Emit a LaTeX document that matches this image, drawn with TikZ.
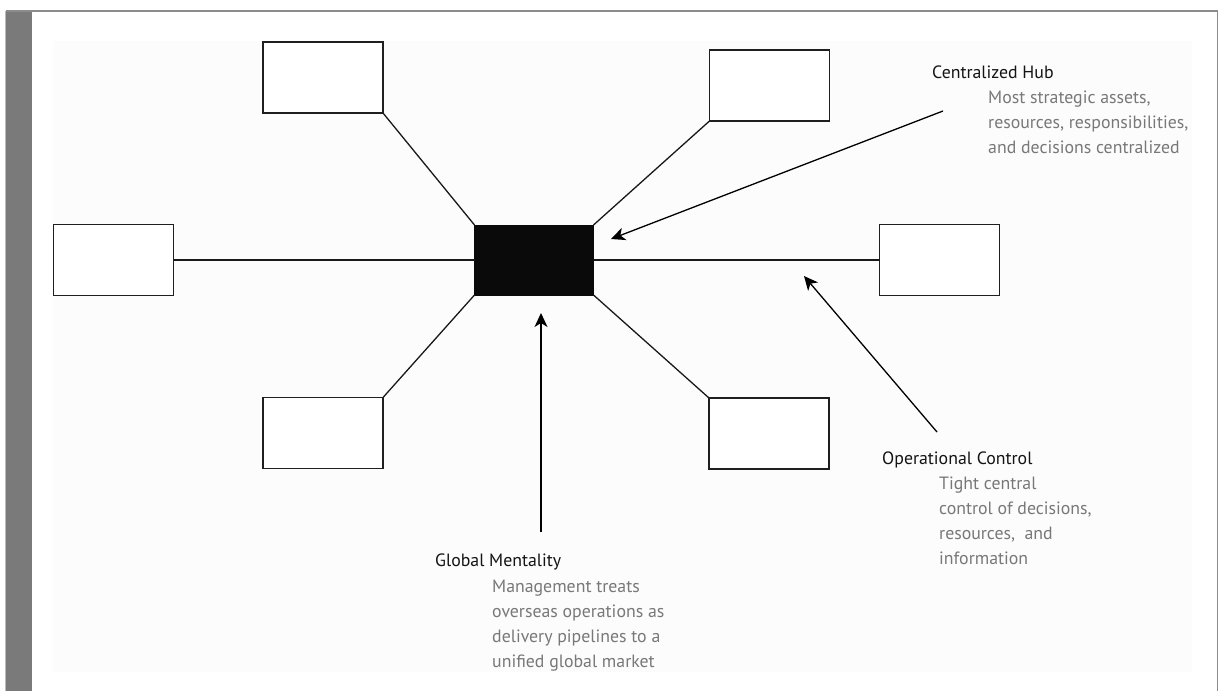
\documentclass[tikz,border=0pt]{standalone}
\usepackage{fontspec}
\setmainfont{PT Sans}
\usetikzlibrary{arrows.meta}
\definecolor{framegray}{RGB}{122,122,122}
\definecolor{edgegray}{RGB}{140,140,140}
\definecolor{panelfill}{RGB}{252,252,252}
\definecolor{bodygray}{RGB}{120,120,120}
\definecolor{hubfill}{RGB}{10,10,10}
% stacked lines whose baseline is that of the first line
\newcommand{\stacklines}[1]{\begin{tabular}[t]{@{}l@{}}#1\end{tabular}}
\tikzset{
  site/.style={draw=black!88, line width=1.4pt, fill=white, minimum width=120pt, minimum height=71pt, inner sep=0pt, outer sep=0pt},
  hubbox/.style={draw=hubfill, fill=hubfill, line width=1pt, minimum width=119pt, minimum height=70pt, inner sep=0pt, outer sep=0pt},
  spoke/.style={line width=1.3pt, black!90},
  pointer/.style={line width=1.3pt, black, -{Stealth[length=14pt, width=13pt, inset=4pt]}},
  heading/.style={anchor=base west, inner sep=0pt, text=black!92, font=\fontsize{17.8}{25}\selectfont},
  body/.style={anchor=base west, inner sep=0pt, text=bodygray, font=\fontsize{17.8}{25}\selectfont},
}
\begin{document}
\begin{tikzpicture}[x=1pt, y=-1pt]
  \useasboundingbox (0,0) rectangle (1219,691);
  % page frame and side bar
  \fill[white] (0,0) rectangle (1219,691);
  \fill[framegray] (6,11) rectangle (32,691);
  \draw[edgegray, line width=1.5pt] (5.5,11) -- (1217.5,11) -- (1217.5,691);
  \draw[edgegray!60, line width=0.8pt] (5.5,11) -- (5.5,691);
  % drawing panel
  \fill[panelfill] (53,41) rectangle (1192,672);

  % hub and its sites
  \node[hubbox] (hub) at (534,260) {};
  \node[site] (tl) at (323,77.5) {};
  \node[site] (tr) at (769.5,85.5) {};
  \node[site] (lf) at (113.5,260) {};
  \node[site] (rt) at (939.5,260) {};
  \node[site] (bl) at (323,433) {};
  \node[site] (br) at (769,433.5) {};

  \draw[spoke] (lf.east) -- (hub.west);
  \draw[spoke] (hub.east) -- (rt.west);
  \draw[spoke] (tl.south east) -- (hub.north west);
  \draw[spoke] (tr.south west) -- (hub.north east);
  \draw[spoke] (bl.north east) -- (hub.south west);
  \draw[spoke] (br.north west) -- (hub.south east);

  % callout pointers
  \coordinate (hubTail) at (943,111);
  \coordinate (hubTip) at (611,239);
  \coordinate (opTail) at (937,432);
  \coordinate (opTip) at (804,276);
  \coordinate (glTail) at (541,532);
  \coordinate (glTip) at (541,313);
  \draw[pointer] (hubTail) -- (hubTip);
  \draw[pointer] (opTail) -- (opTip);
  \draw[pointer] (glTail) -- (glTip);

  % callout texts
  \node[heading] (hubHead) at (932,78) {Centralized Hub};
  \node[body] (hubBody) at (988,103) {\stacklines{Most strategic assets,\\resources, responsibilities,\\and decisions centralized}};

  \node[heading] (opHead) at (882,464) {Operational Control};
  \node[body] (opBody) at (939,489) {\stacklines{Tight central\\control of decisions,\\resources,\ \ and\\information}};

  \node[heading] (glHead) at (435,566) {Global Mentality};
  \node[body] (glBody) at (492,592) {\stacklines{Management treats\\overseas operations as\\delivery pipelines to a\\unified global market}};
\end{tikzpicture}
\end{document}
